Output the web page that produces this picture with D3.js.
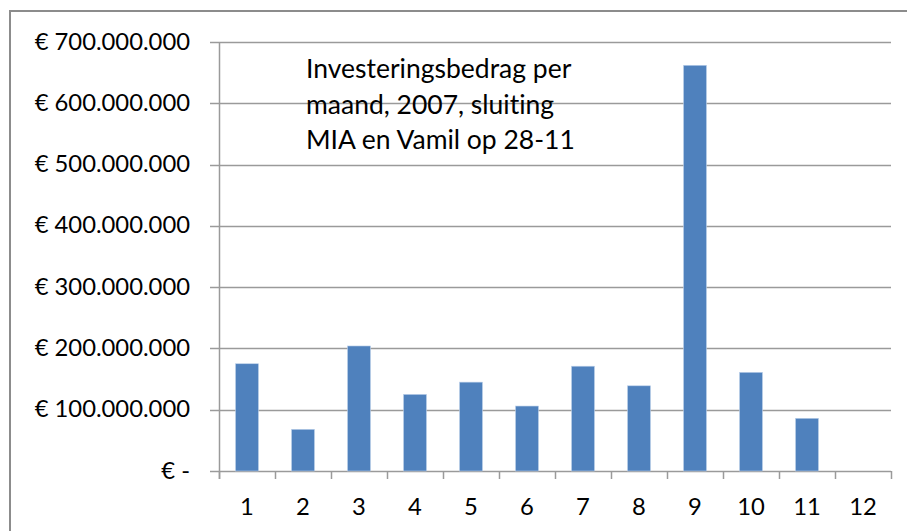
<!DOCTYPE html>
<html>
<head>
<meta charset="utf-8">
<script src="https://cdnjs.cloudflare.com/ajax/libs/d3/7.8.5/d3.min.js"></script>
<style>
  html, body { margin: 0; padding: 0; background: #fff; }
  svg { display: block; }
  text { font-family: Lato, "Open Sans", sans-serif; fill: #000; font-variant-ligatures: none; }
</style>
</head>
<body>
<div id="chart"></div>
<script>
// Investeringsbedrag per maand (2007)
const months = ["1", "2", "3", "4", "5", "6", "7", "8", "9", "10", "11", "12"];
const amounts = [175e6, 68e6, 204e6, 125e6, 145e6, 106e6, 171e6, 139e6, 662e6, 161e6, 86e6, 0];
const yTicks = [0, 100e6, 200e6, 300e6, 400e6, 500e6, 600e6, 700e6];
const titleLines = ["Investeringsbedrag per", "maand, 2007, sluiting", "MIA en Vamil op 28-11"];

const W = 907, H = 531;
const m = { left: 219, right: 16, top: 42, bottom: 60 };
const innerW = W - m.left - m.right;
const innerH = H - m.top - m.bottom;

const svg = d3.select("#chart").append("svg")
    .attr("width", W)
    .attr("height", H);

// kader rond de grafiek (loopt buiten beeld door)
svg.append("rect")
    .attr("x", 10).attr("y", 11)
    .attr("width", W + 20).attr("height", H + 20)
    .attr("fill", "none")
    .attr("stroke", "#8c8c8c")
    .attr("stroke-width", 2);

const g = svg.append("g").attr("transform", `translate(${m.left},${m.top})`);

const x = d3.scaleBand().domain(months).range([0, innerW]).padding(0);
const y = d3.scaleLinear().domain([0, 700e6]).range([innerH, 0]);

const fmt = v => v === 0 ? "€ -" : "€ " + d3.format(",")(v).replace(/,/g, ".");

// rasterlijnen
g.selectAll(".grid")
    .data(yTicks)
    .enter()
    .append("line")
    .attr("x1", -9)
    .attr("x2", innerW)
    .attr("y1", d => Math.round(y(d)) + 0.5)
    .attr("y2", d => Math.round(y(d)) + 0.5)
    .attr("stroke", "#9a9a9a")
    .attr("stroke-width", 1.5);

// y-as
const yAxis = g.append("g")
    .call(d3.axisLeft(y).tickValues(yTicks).tickFormat(fmt).tickSize(0).tickPadding(29));
yAxis.select(".domain").remove();
yAxis.selectAll("text")
    .style("font-size", "23.8px")
    .attr("dy", "0.3em");

g.append("line")
    .attr("x1", 0.5).attr("x2", 0.5)
    .attr("y1", 0).attr("y2", innerH + 8)
    .attr("stroke", "#9a9a9a")
    .attr("stroke-width", 1.5);

// x-as tickmarks op de grenzen
const bounds = months.map(d => x(d)).concat([innerW]);
g.selectAll(".xtick")
    .data(bounds)
    .enter()
    .append("line")
    .attr("x1", d => Math.round(d) + 0.5)
    .attr("x2", d => Math.round(d) + 0.5)
    .attr("y1", innerH)
    .attr("y2", innerH + 8)
    .attr("stroke", "#9a9a9a")
    .attr("stroke-width", 1.5);

g.selectAll(".xlabel")
    .data(months)
    .enter()
    .append("text")
    .attr("x", d => x(d) + x.bandwidth() / 2)
    .attr("y", innerH + 44)
    .attr("text-anchor", "middle")
    .style("font-size", "23.8px")
    .text(d => d);

// staven
const barW = x.bandwidth() * 0.41;
g.selectAll(".bar")
    .data(amounts)
    .enter()
    .append("rect")
    .attr("x", (d, i) => x(months[i]) + (x.bandwidth() - barW) / 2)
    .attr("y", d => y(d))
    .attr("width", barW)
    .attr("height", d => innerH - y(d))
    .attr("fill", "#4f81bd")
    .attr("stroke", "#bcd0ea")
    .attr("stroke-width", d => d > 0 ? 0.6 : 0);

// titel
svg.append("g")
    .selectAll("text")
    .data(titleLines)
    .enter()
    .append("text")
    .attr("x", 306)
    .attr("y", (d, i) => 78 + i * 35.5)
    .style("font-size", "26.5px")
    .text(d => d);
</script>
</body>
</html>
